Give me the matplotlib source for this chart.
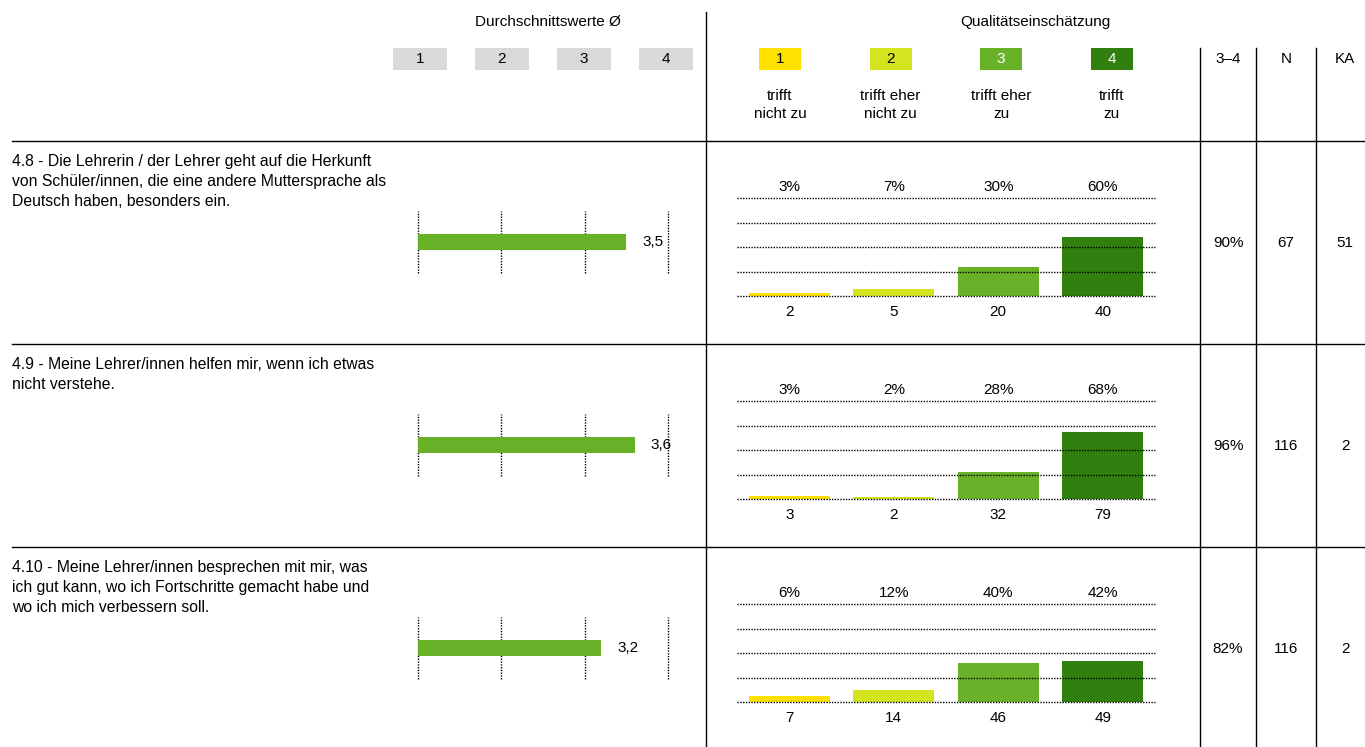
import matplotlib.pyplot as plt

plt.rcParams['font.family'] = ['Liberation Sans Narrow', 'Liberation Sans', 'DejaVu Sans']
plt.rcParams['font.size'] = 11

# data
questions = [
    "4.8 - Die Lehrerin / der Lehrer geht auf die Herkunft\nvon Schüler/innen, die eine andere Muttersprache als\nDeutsch haben, besonders ein.",
    "4.9 - Meine Lehrer/innen helfen mir, wenn ich etwas\nnicht verstehe.",
    "4.10 - Meine Lehrer/innen besprechen mit mir, was\nich gut kann, wo ich Fortschritte gemacht habe und\nwo ich mich verbessern soll.",
]
means = [3.5, 3.6, 3.2]
mean_labels = ["3,5", "3,6", "3,2"]
counts = [[2, 5, 20, 40], [3, 2, 32, 79], [7, 14, 46, 49]]
percents = [[3, 7, 30, 60], [3, 2, 28, 68], [6, 12, 40, 42]]
top_two = ["90%", "96%", "82%"]
n_vals = [67, 116, 116]
ka_vals = [51, 2, 2]

scale_labels = ["1", "2", "3", "4"]
answer_labels = ["trifft\nnicht zu", "trifft eher\nnicht zu", "trifft eher\nzu", "trifft\nzu"]
colors = ["#FFE100", "#D4E41E", "#6AB12A", "#31800F"]
box_text_colors = ["black", "black", "white", "white"]
mean_color = "#6AB12A"
gray = "#D9D9D9"

W, H = 1365, 747
fig = plt.figure(figsize=(W / 100, H / 100), dpi=100)


def px_axes(x0, y0, x1, y1, **kw):
    return fig.add_axes([x0 / W, 1 - y1 / H, (x1 - x0) / W, (y1 - y0) / H], **kw)


# overlay in pixel coordinates for the table frame and headers
bg = px_axes(0, 0, W, H, zorder=0)
bg.set_xlim(0, W)
bg.set_ylim(H, 0)
bg.axis('off')

bg.text(548, 22, "Durchschnittswerte Ø", ha='center', va='center')
bg.text(1035, 22, "Qualitätseinschätzung", ha='center', va='center')

for i, lab in enumerate(scale_labels):
    cx = 420 + 82 * i
    bg.add_patch(plt.Rectangle((cx - 27, 48), 54, 22, color=gray, lw=0))
    bg.text(cx, 59, lab, ha='center', va='center')
for i, lab in enumerate(scale_labels):
    cx = 780 + 110.5 * i
    bg.add_patch(plt.Rectangle((cx - 21, 48), 42, 22, color=colors[i], lw=0))
    bg.text(cx, 59, lab, ha='center', va='center', color=box_text_colors[i])
    bg.text(cx, 105, answer_labels[i], ha='center', va='center', linespacing=1.4)

for x, lab in zip([1228, 1286, 1345], ["3–4", "N", "KA"]):
    bg.text(x, 59, lab, ha='center', va='center')

bg.plot([706, 706], [12, H], color='black', lw=1)
for x in [1200, 1256, 1316]:
    bg.plot([x, x], [48, H], color='black', lw=1)

row_h = 203
for r in range(3):
    top = 141 + r * row_h
    bg.plot([12, W], [top, top], color='black', lw=1)
    bg.text(12, top + 13, questions[r], ha='left', va='top', linespacing=1.42,
            fontsize=11.3)
    yc = top + 102
    bg.text(1228, yc, top_two[r], ha='center', va='center')
    bg.text(1286, yc, str(n_vals[r]), ha='center', va='center')
    bg.text(1345, yc, str(ka_vals[r]), ha='center', va='center')

    # mean bar
    ax = px_axes(418, top + 70, 668, top + 132, zorder=2)
    ax.set_xlim(1, 4)
    ax.set_ylim(0, 1)
    ax.patch.set_alpha(0)
    for v in [1, 2, 3, 4]:
        ax.axvline(v, color='black', lw=1, ls=(0, (1, 1)), zorder=1, clip_on=False)
    ax.barh(0.5, means[r] - 1, left=1, height=0.26, color=mean_color, zorder=2)
    ax.text(means[r] + 0.19, 0.5, mean_labels[r], ha='left', va='center')
    ax.axis('off')

    # distribution bars
    ax = px_axes(737, top + 57, 1155, top + 155, zorder=2)
    ax.set_xlim(-0.5, 3.5)
    ax.set_ylim(0, 100)
    ax.patch.set_alpha(0)
    for g in [0, 25, 50, 75, 100]:
        ax.axhline(g, color='black', lw=1, ls=(0, (1, 1)), zorder=3, clip_on=False)
    ax.bar(range(4), percents[r], width=0.775, color=colors, zorder=2)
    for i in range(4):
        ax.text(i, 111, f"{percents[r][i]}%", ha='center', va='center')
        ax.text(i, -16, str(counts[r][i]), ha='center', va='center')
    ax.axis('off')

fig.savefig('out.png', dpi=100)
